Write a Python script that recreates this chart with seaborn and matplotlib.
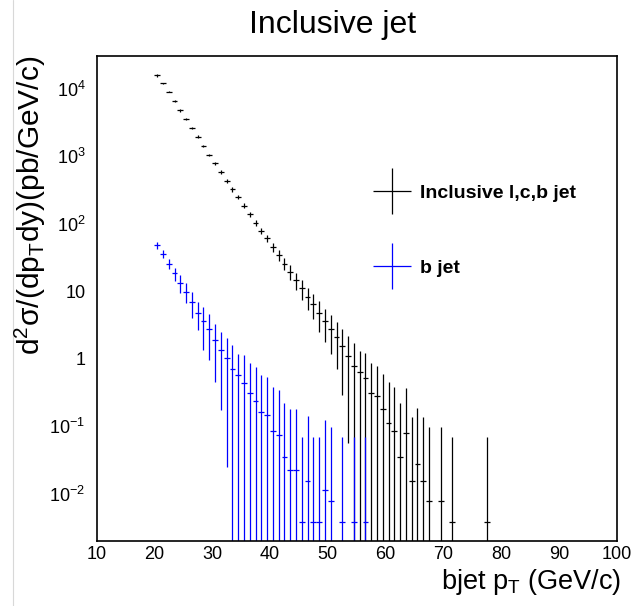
import numpy as np
import matplotlib
matplotlib.use("Agg")
import matplotlib.pyplot as plt
import seaborn as sns
from matplotlib.container import ErrorbarContainer
from matplotlib.legend_handler import HandlerErrorbar
from matplotlib.lines import Line2D
from matplotlib.ticker import FixedLocator, MultipleLocator, LogLocator, NullFormatter

# Histogram binning: 1 GeV/c bins starting at 20 GeV/c
BIN_LOW = 20.0
BIN_WIDTH = 1.0

# Inclusive l,c,b jet cross section per bin (pb/GeV/c), 0 = empty bin
incl_vals = [15800, 12000, 9030, 6640, 4790, 3560, 2620, 1950, 1420, 1050,
             785, 583, 434, 324, 249, 185, 139, 104, 78, 60.8,
             45.6, 34.4, 25.5, 19.4, 14.7, 11.0, 8.2, 6.4, 4.79, 3.58,
             2.80, 2.12, 1.54, 1.11, 0.787, 0.629, 0.513, 0.307, 0.280, 0.178,
             0.110, 0.0857, 0.0353, 0.0785, 0.0156, 0.0275, 0.0156, 0.0078, 0, 0.0078,
             0, 0.00385, 0, 0, 0, 0, 0, 0.00385]
# relative statistical errors (error / value)
incl_relerr = [0.05, 0.02, 0.02, 0.04, 0.04, 0.02, 0.04, 0.05, 0.04, 0.04,
               0.05, 0.06, 0.06, 0.08, 0.08, 0.09, 0.09, 0.10, 0.11, 0.13,
               0.15, 0.18, 0.20, 0.25, 0.28, 0.33, 0.36, 0.40, 0.48, 0.50,
               0.58, 0.67, 0.81, 0.95, 1.15, 1.10, 1.39, 1.78, 1.81, 2.33,
               3.13, 3.39, 5.19, 3.64, 7.89, 5.68, 7.89, 11.35, 0, 11.35,
               0, 16.8, 0, 0, 0, 0, 0, 16.8]

# b jet cross section per bin
bjet_vals = [47.9, 35.6, 25.5, 18.4, 13.4, 9.84, 6.85, 4.80, 3.58, 2.78,
             1.89, 1.35, 1.04, 0.704, 0.574, 0.432, 0.307, 0.239, 0.161, 0.148,
             0.0849, 0.0741, 0.0353, 0.0227, 0.0227, 0.00385, 0.0154, 0.00385, 0.00385, 0.0115,
             0.0078, 0, 0.00385, 0, 0.00385, 0, 0.00385]
bjet_relerr = [0.13, 0.14, 0.165, 0.22, 0.30, 0.33, 0.41, 0.45, 0.62, 0.65,
               0.76, 0.87, 0.976, 1.27, 1.02, 1.63, 1.78, 2.18, 2.56, 2.65,
               3.5, 3.6, 5.2, 6.8, 6.8, 16.8, 8.2, 16.8, 16.8, 9.8,
               11.4, 0, 16.8, 0, 16.8, 0, 16.8]

series_labels = ["Inclusive l,c,b jet", "b jet"]
series_colors = ["#000000", "#0000ff"]

y_ticks = [1e-2, 1e-1, 1, 10, 1e2, 1e3, 1e4]
y_tick_labels = [r"$10^{-2}$", r"$10^{-1}$", "1", "10", r"$10^{2}$", r"$10^{3}$", r"$10^{4}$"]
x_ticks = [10, 20, 30, 40, 50, 60, 70, 80, 90, 100]


def draw_hist(ax, vals, relerr, color, label):
    """Draw a ROOT-style histogram with error bars, skipping empty bins."""
    vals = np.asarray(vals, dtype=float)
    err = vals * np.asarray(relerr, dtype=float)
    centers = BIN_LOW + BIN_WIDTH * (np.arange(len(vals)) + 0.5)
    keep = vals > 0
    y = vals[keep]
    hi = err[keep]
    lo = np.minimum(hi, y - 1e-7)  # bars reaching zero run off the bottom
    return ax.errorbar(centers[keep], y, xerr=BIN_WIDTH / 2, yerr=[lo, hi],
                       fmt="none", ecolor=color, elinewidth=0.9, capsize=0,
                       label=label)


def main():
    sns.set_theme(style="white")
    plt.rcParams["font.family"] = ["Liberation Sans", "DejaVu Sans"]
    plt.rcParams["mathtext.fontset"] = "custom"
    plt.rcParams["mathtext.rm"] = "Liberation Sans"
    plt.rcParams["mathtext.it"] = "Liberation Sans:italic"
    plt.rcParams["mathtext.default"] = "regular"
    plt.rcParams["text.color"] = "black"

    W, H = 634, 606
    fig = plt.figure(figsize=(W / 100, H / 100), dpi=100)
    fig.patch.set_facecolor("white")
    left, right, top, bottom = 96.5, 617.0, 55.7, 540.7
    ax = fig.add_axes([left / W, 1 - bottom / H, (right - left) / W, (bottom - top) / H])

    handles = []
    for vals, relerr, color, label in zip([incl_vals, bjet_vals], [incl_relerr, bjet_relerr],
                                          series_colors, series_labels):
        handles.append(draw_hist(ax, vals, relerr, color, label))

    ax.set_yscale("log")
    ax.set_xlim(10, 100)
    ax.set_ylim(10 ** -2.696, 10 ** 4.49)

    ax.xaxis.set_major_locator(FixedLocator(x_ticks))
    ax.xaxis.set_minor_locator(MultipleLocator(2))
    ax.set_xticklabels([str(t) for t in x_ticks])
    ax.yaxis.set_major_locator(FixedLocator(y_ticks))
    ax.set_yticklabels(y_tick_labels)
    ax.yaxis.set_minor_locator(LogLocator(base=10, subs=np.arange(2, 10), numticks=20))
    ax.yaxis.set_minor_formatter(NullFormatter())

    ax.tick_params(axis="both", which="both", direction="in", top=False, right=False,
                   colors="black", width=0.8, labelsize=13)
    ax.tick_params(axis="x", which="major", length=10.4, pad=4)
    ax.tick_params(axis="x", which="minor", length=5.2)
    ax.tick_params(axis="y", which="major", length=11.5, pad=8)
    ax.tick_params(axis="y", which="minor", length=6.2)
    for sp in ax.spines.values():
        sp.set_color("black")
        sp.set_linewidth(1.2)
    ax.grid(False)

    leg = ax.legend(handles=handles, labels=series_labels, loc="upper left",
                    bbox_to_anchor=(376.4 / W, 1 - 184.0 / H), bbox_transform=fig.transFigure,
                    frameon=False, borderpad=0, borderaxespad=0, handlelength=1.6,
                    handletextpad=0.64, labelspacing=2.96,
                    prop={"weight": "bold", "size": 14},
                    handler_map={ErrorbarContainer: HandlerErrorbar(xerr_size=1.0, yerr_size=1.19)})
    for txt in leg.get_texts():
        txt.set_color("black")

    fig.text(332.5 / W, 1 - 33.5 / H, "Inclusive jet", ha="center", va="baseline",
             fontsize=23, color="black")
    fig.text(621 / W, 1 - 589 / H, r"bjet p$_{T}$ (GeV/c)", ha="right", va="baseline",
             fontsize=19.5, color="black")
    fig.text(30 / W, 1 - top / H, r"d$^{2}$σ/(dp$_{T}$dy)(pb/GeV/c)", rotation=90,
             ha="center", va="top", fontsize=21.5, color="black")

    # thin grey border of the original canvas
    fig.add_artist(Line2D([13 / W, 13 / W], [0, 1], transform=fig.transFigure,
                          color="#d8d8d8", lw=0.8))

    fig.savefig("out.png", dpi=100)


if __name__ == "__main__":
    main()
